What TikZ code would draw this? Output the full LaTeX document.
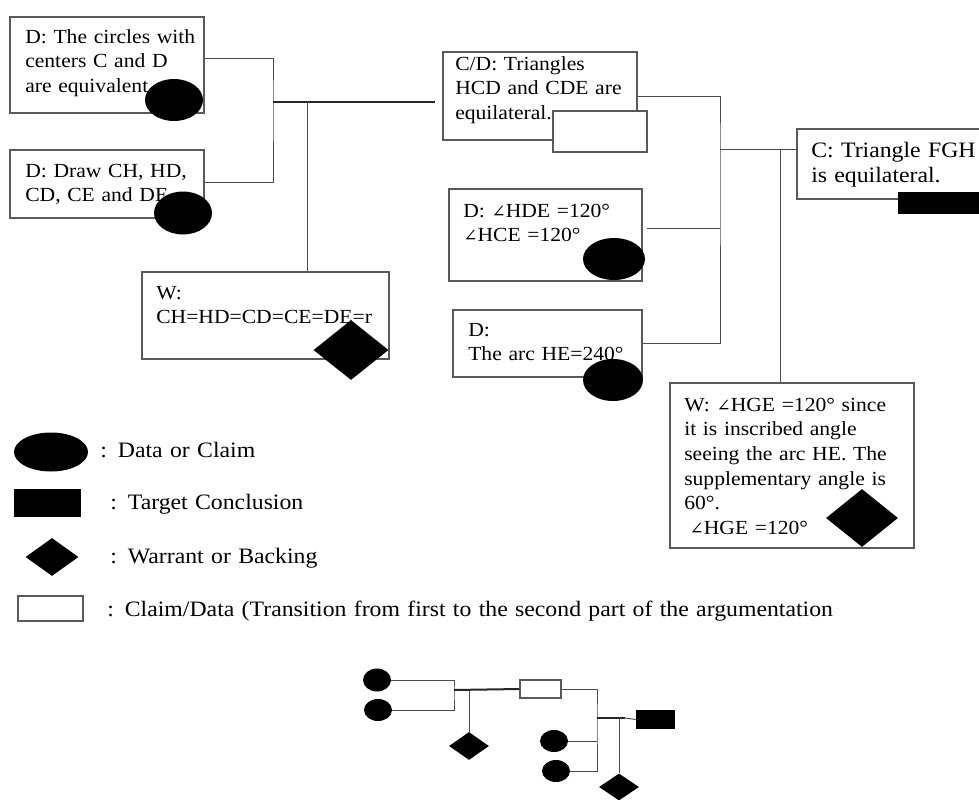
\documentclass[tikz,border=0pt]{standalone}
\usepackage{fontspec}
\setmainfont{Liberation Serif}[FakeStretch=1.08]
\newfontfamily\symfont{DejaVu Serif}[Scale=0.85]
\usetikzlibrary{shapes.geometric,fit}
\newcommand{\pxu}{0.75pt}
\newcommand{\ang}{{\symfont ∠}}
\tikzset{
  box/.style      = {draw=black!65, line width=0.8pt, inner sep=0pt},
  trans/.style    = {box, fill=white},
  datum/.style 2 args = {ellipse, fill=black, inner sep=0pt,
                     minimum width=#1*\pxu, minimum height=#2*\pxu},
  warrant/.style 2 args = {diamond, fill=black, inner sep=0pt,
                     minimum width=#1*\pxu, minimum height=#2*\pxu},
  target/.style   = {fill=black, inner sep=0pt},
  link/.style     = {draw=black!70, line width=0.7pt},
  mainlink/.style = {draw=black!85, line width=1.5pt},
  txt/.style      = {anchor=base west, inner sep=0pt, align=left, text width=8cm,
                     font=\fontsize{15pt}{18.5pt}\selectfont},
  bigtxt/.style   = {txt, font=\fontsize{16.5pt}{18.8pt}\selectfont},
  key/.style      = {txt, text width=22cm, font=\fontsize{16.5pt}{19pt}\selectfont}
}

\begin{document}
\begin{tikzpicture}[x=\pxu, y=-\pxu]
 \useasboundingbox (0,0) rectangle (979,800);

 % first part of the argumentation
 \node[box, fit={(10,17) (204,113)}] (d1) {};
 \node[box, fit={(10,150) (204,218)}] (d2) {};
 \node[box, fit={(142,272) (389,359)}] (wl) {};
 \node[txt] (td1) at (25,43) {D: The circles with\\centers C and D\\are equivalent.};
 \node[txt] (td2) at (25,177) {D: Draw CH, HD,\\CD, CE and DE.};
 \node[txt] (twl) at (156,299) {W:\\CH=HD=CD=CE=DE=r};
 \node[datum={58}{42}] (e1) at (174,100) {};
 \node[datum={58}{43}] (e2) at (183,213) {};
 \node[warrant={75}{60}] (dm1) at (351,350) {};

 \coordinate (j1) at (273,102);
 \coordinate (w1) at (307,102);
 \coordinate (j1end) at (435,102);
 \draw[link] ([yshift=5.25pt]d1.east) -| (j1) |- ([yshift=1.5pt]d2.east);
 \draw[mainlink] (j1) -- (j1end);
 \draw[link] (w1) -- (w1 |- wl.north);

 % second part of the argumentation
 \node[box, fit={(443,52) (637,140)}] (cd) {};
 \node[box, fit={(449,189) (642,281)}] (dang) {};
 \node[box, fit={(453,310) (642,377)}] (darc) {};
 \node[box, fit={(797,129) (995,199)}] (c) {};
 \node[box, fit={(670,383) (914,548)}] (wr) {};
 \node[txt] (tcd) at (455,70) {C/D: Triangles\\HCD and CDE are\\equilateral.};
 \node[txt] (tang) at (463,217) {D: \ang HDE =120°\\\ang HCE =120°};
 \node[txt] (tarc) at (468,336) {D:\\The arc HE=240°};
 \node[bigtxt] (tc) at (811,157) {C: Triangle FGH\\is equilateral.};
 \node[txt] (twr) at (684,411) {W: \ang HGE =120° since\\it is inscribed angle\\seeing the arc HE. The\\supplementary angle is\\60°.\\\hspace{4pt}\ang HGE =120°};
 \node[trans, fit={(553,111) (647,152)}] (tr) {};
 \node[datum={62}{42}] (e3) at (614,259) {};
 \node[datum={60}{42}] (e4) at (613,380) {};
 \node[target, fit={(898,192) (995,214)}] (tc1) {};
 \node[warrant={72}{58}] (dm2) at (862,518) {};

 \coordinate (j2) at (720,149);
 \coordinate (w2) at (780,149);
 \draw[link] (cd.east) -| (j2) |- (darc.east);
 \draw[link] ([xshift=3pt,yshift=5.25pt]dang.east) coordinate (t1) -- (t1 -| j2);
 \draw[link] (j2) -- (j2 -| c.west);
 \draw[link] (w2) -- (w2 |- wr.north);

 % legend
 \node[datum={74}{39}] (kd) at (51,452) {};
 \node[target, fit={(14,489) (81,517)}] (kt) {};
 \node[warrant={53}{38}] (kw) at (52,557) {};
 \node[box, fit={(18,596) (83,621)}] (kr) {};
 \node[key] (lkd) at (100,457) {: Data or Claim};
 \node[key] (lkt) at (110,509) {: Target Conclusion};
 \node[key] (lkw) at (110,563) {: Warrant or Backing};
 \node[key] (lkr) at (107,616) {: Claim/Data (Transition from first to the second part of the argumentation};

 % small scheme
 \node[datum={28}{23}] (ma) at (377,680) {};
 \node[datum={28}{22}] (mb) at (378,710) {};
 \node[trans, fit={(520,680) (561,698)}] (mt) {};
 \node[datum={28}{22}] (mc) at (554,741) {};
 \node[datum={28}{22}] (md) at (556,771) {};
 \node[target, fit={(636,710) (675,729)}] (mr) {};
 \node[warrant={40}{28}] (mw1) at (469,746) {};
 \node[warrant={40}{27}] (mw2) at (619,787) {};

 \coordinate (mj1) at (454,690);
 \coordinate (mv1) at (469,690);
 \coordinate (mj2) at (597,718);
 \coordinate (mv2) at (619,718);
 \coordinate (mj2end) at (625,718);
 \draw[link] (ma.east) -| (mj1) |- (mb.east);
 \draw[mainlink] (mj1) -- (mt.west);
 \draw[link] (mv1) -- (mw1.north);
 \draw[link] (mt.east) -| (mj2) |- (md.east);
 \draw[link] (mc.east) -- (mc.east -| mj2);
 \draw[mainlink] (mj2) -- (mj2end);
 \draw[link] (mj2end) -- (mr.west);
 \draw[link] (mv2) -- (mw2.north);
\end{tikzpicture}
\end{document}
